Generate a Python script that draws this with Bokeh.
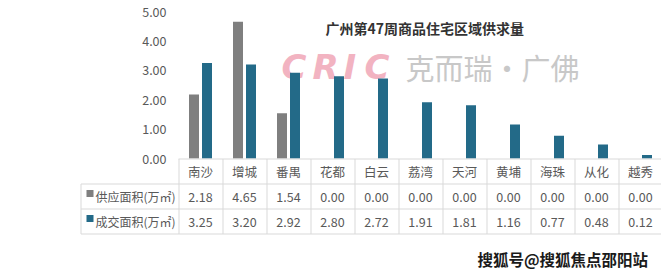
from bokeh.plotting import figure
from bokeh.models import Range1d
from bokeh.core.properties import value
from bokeh.embed import file_html
from bokeh.resources import INLINE

# ---- data ----
districts = ["南沙", "增城", "番禺", "花都", "白云", "荔湾", "天河", "黄埔", "海珠", "从化", "越秀"]
supply = [2.18, 4.65, 1.54, 0.00, 0.00, 0.00, 0.00, 0.00, 0.00, 0.00, 0.00]
deals = [3.25, 3.20, 2.92, 2.80, 2.72, 1.91, 1.81, 1.16, 0.77, 0.48, 0.12]
series_names = ["供应面积(万㎡)", "成交面积(万㎡)"]
y_ticks = [0, 1, 2, 3, 4, 5]
title = "广州第47周商品住宅区域供求量"
footer = "搜狐号@搜狐焦点邵阳站"

W, H = 661, 278
X0, CW = 178.0, 44.0      # left edge of first category column (px), column width (px)
Y0, PPU = 158.0, 29.4     # baseline (px from top), px per unit

def ux(px):
    return (px - X0) / CW

def vy(py):
    return (Y0 - py) / PPU

FONT = value("Noto Sans CJK SC")
GRAY = "#7f7f7f"
TEAL = "#236a88"
TXT = "#595959"
LINE = "#d9d9d9"

p = figure(width=W, height=H, x_range=Range1d(ux(0), ux(W)), y_range=Range1d(vy(H), vy(0)),
           output_backend="svg", toolbar_location=None, min_border=0,
           x_axis_type=None, y_axis_type=None)
p.grid.visible = False
p.outline_line_color = None
p.background_fill_color = "white"
p.border_fill_color = "white"

n = len(districts)

# ---- watermark ----
cric_letters = ["C", "R", "I", "C"]
cric_px = [281, 312, 343, 364]
p.text(x=[ux(v) for v in cric_px], y=[vy(66)] * 4, text=cric_letters,
       text_font=value("DejaVu Sans"), text_font_style="bold italic",
       text_font_size="34px", text_color="#f2b3c1", text_align="left", text_baseline="middle")
p.text(x=[ux(405)], y=[vy(66)], text=["克而瑞·广佛"], text_font=FONT,
       text_font_size="29px", text_color="#c8c8c8", text_align="left", text_baseline="middle")

# ---- bars ----
off = 6.5 / CW
bw = 10.0 / CW
centers = [i + 0.5 for i in range(n)]
p.vbar(x=[c - off for c in centers], top=supply, bottom=0, width=bw, fill_color=GRAY, line_color=None)
p.vbar(x=[c + off for c in centers], top=deals, bottom=0, width=bw, fill_color=TEAL, line_color=None)

# ---- y tick labels ----
p.text(x=[ux(166)] * len(y_ticks), y=y_ticks, text=["%.2f" % t for t in y_ticks],
       text_font=FONT, text_font_size="12.5px", text_color=TXT,
       text_align="right", text_baseline="middle")

# ---- title ----
p.text(x=[ux(325)], y=[vy(27)], text=[title], text_font=FONT, text_font_style="bold",
       text_font_size="14px", text_color="#333333", text_align="left", text_baseline="middle")

# ---- data table grid ----
xs0, ys0, xs1, ys1 = [], [], [], []
for py, x_start in [(158.5, X0), (183.5, 80.5), (208.5, 80.5), (233.5, 80.5)]:
    xs0.append(ux(x_start)); xs1.append(ux(W)); ys0.append(vy(py)); ys1.append(vy(py))
xs0.append(ux(80.5)); xs1.append(ux(80.5)); ys0.append(vy(183.5)); ys1.append(vy(233.5))
for k in range(n + 1):
    xs0.append(k + 0.5 / CW); xs1.append(k + 0.5 / CW); ys0.append(vy(158.5)); ys1.append(vy(233.5))
p.segment(x0=xs0, y0=ys0, x1=xs1, y1=ys1, line_color=LINE, line_width=1)

# header labels
p.text(x=centers, y=[vy(171)] * n, text=districts, text_font=FONT, text_font_size="12.5px",
       text_color=TXT, text_align="center", text_baseline="middle")
# values
p.text(x=centers, y=[vy(196)] * n, text=["%.2f" % v for v in supply], text_font=FONT,
       text_font_size="12.5px", text_color=TXT, text_align="center", text_baseline="middle")
p.text(x=centers, y=[vy(221)] * n, text=["%.2f" % v for v in deals], text_font=FONT,
       text_font_size="12.5px", text_color=TXT, text_align="center", text_baseline="middle")
# legend keys
p.scatter(x=[ux(89.5)] * 2, y=[vy(193), vy(218)], marker="square", size=7,
          fill_color=[GRAY, TEAL], line_color=None)
p.text(x=[ux(95)] * 2, y=[vy(196), vy(221)], text=series_names, text_font=FONT,
       text_font_size="12px", text_color=TXT, text_align="left", text_baseline="middle")

# ---- footer ----
p.text(x=[ux(477)], y=[vy(258)], text=[footer], text_font=FONT, text_font_style="bold",
       text_font_size="15.5px", text_color="#1a1a1a", text_align="left", text_baseline="middle")

open("out.html", "w").write(file_html(p, INLINE))
